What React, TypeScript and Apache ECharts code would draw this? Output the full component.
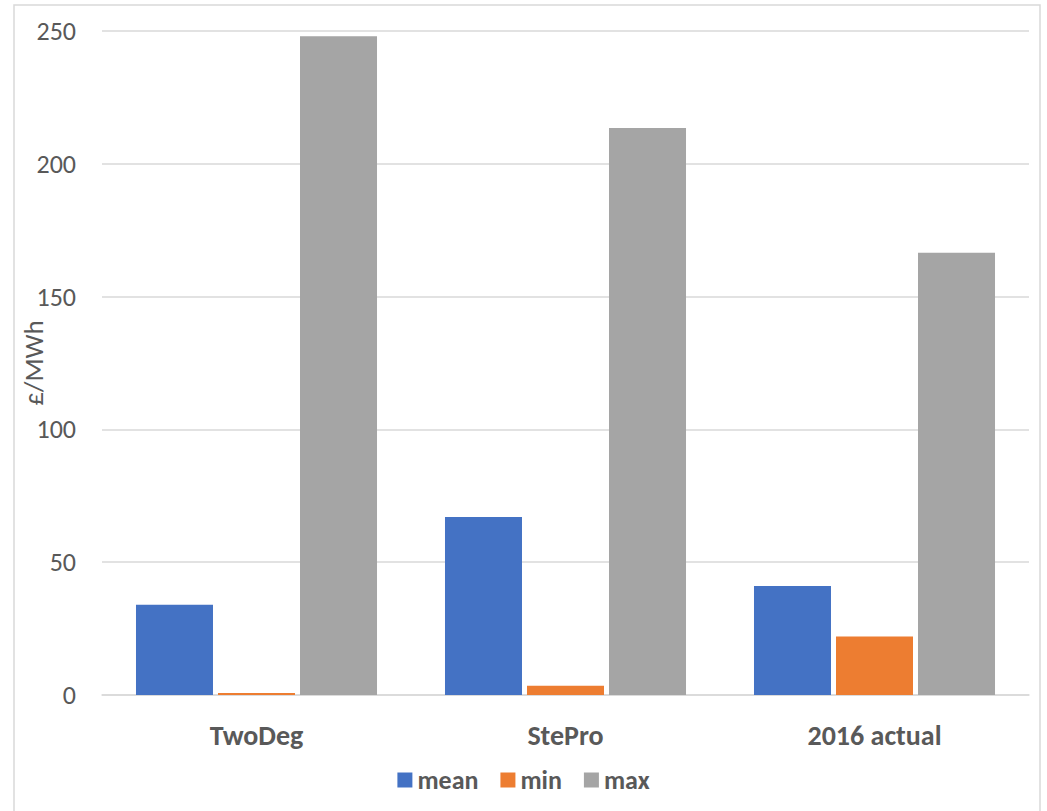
import React, { useEffect, useRef } from "react";
import * as echarts from "echarts";

const categories = ["TwoDeg", "StePro", "2016 actual"];
const meanValues = [34, 67, 41];
const minValues = [0.8, 3.5, 22];
const maxValues = [248, 213.5, 166.5];
const yTicks = { min: 0, max: 250, interval: 50 };

const FONT = "Carlito, Lato, 'Open Sans', sans-serif";

export default function App() {
  const ref = useRef<HTMLDivElement>(null);
  useEffect(() => {
    if (!ref.current) return;
    const chart = echarts.init(ref.current, undefined, { renderer: "svg" });
    const barStyle = (color: string) => ({ color });
    chart.setOption({
      animation: false,
      backgroundColor: "#ffffff",
      textStyle: { fontFamily: FONT },
      graphic: [
        {
          type: "rect",
          shape: { x: 14, y: 5, width: 1026, height: 820 },
          style: { fill: "none", stroke: "#d9d9d9", lineWidth: 1.5 },
          silent: true,
          z: -1,
        },
      ],
      grid: { left: 102, right: 18, top: 31, bottom: 116, outerBoundsMode: "none", containLabel: false },
      legend: {
        bottom: 13,
        left: "center",
        itemWidth: 15,
        itemHeight: 15,
        itemGap: 22,
        icon: "rect",
        textStyle: { fontSize: 26, fontWeight: "bold", color: "#595959", fontFamily: FONT },
        data: ["mean", "min", "max"],
      },
      xAxis: {
        type: "category",
        data: categories,
        axisLine: { show: true, lineStyle: { color: "#d9d9d9", width: 1.5 } },
        axisTick: { show: false },
        axisLabel: { fontSize: 28, fontWeight: "bold", color: "#595959", margin: 26, fontFamily: FONT },
      },
      yAxis: {
        type: "value",
        min: yTicks.min,
        max: yTicks.max,
        interval: yTicks.interval,
        name: "£/MWh",
        nameLocation: "middle",
        nameGap: 55,
        nameMoveOverlap: false,
        nameTextStyle: { fontSize: 27, color: "#595959", fontFamily: FONT },
        axisLine: { show: false },
        axisTick: { show: false },
        axisLabel: { fontSize: 26, color: "#595959", margin: 26, fontFamily: FONT },
        splitLine: { lineStyle: { color: "#d9d9d9", width: 1.5 } },
      },
      series: [
        { name: "mean", type: "bar", data: meanValues, itemStyle: barStyle("#4472c4"), barGap: "6.5%", barCategoryGap: "22%" },
        { name: "min", type: "bar", data: minValues, itemStyle: barStyle("#ed7d31"), barGap: "6.5%", barCategoryGap: "22%" },
        { name: "max", type: "bar", data: maxValues, itemStyle: barStyle("#a5a5a5"), barGap: "6.5%", barCategoryGap: "22%" },
      ],
    });
    return () => chart.dispose();
  }, []);
  return (
    <div
      ref={ref}
      style={{ position: "fixed", left: 0, top: 0, width: 1047, height: 811 }}
    />
  );
}
